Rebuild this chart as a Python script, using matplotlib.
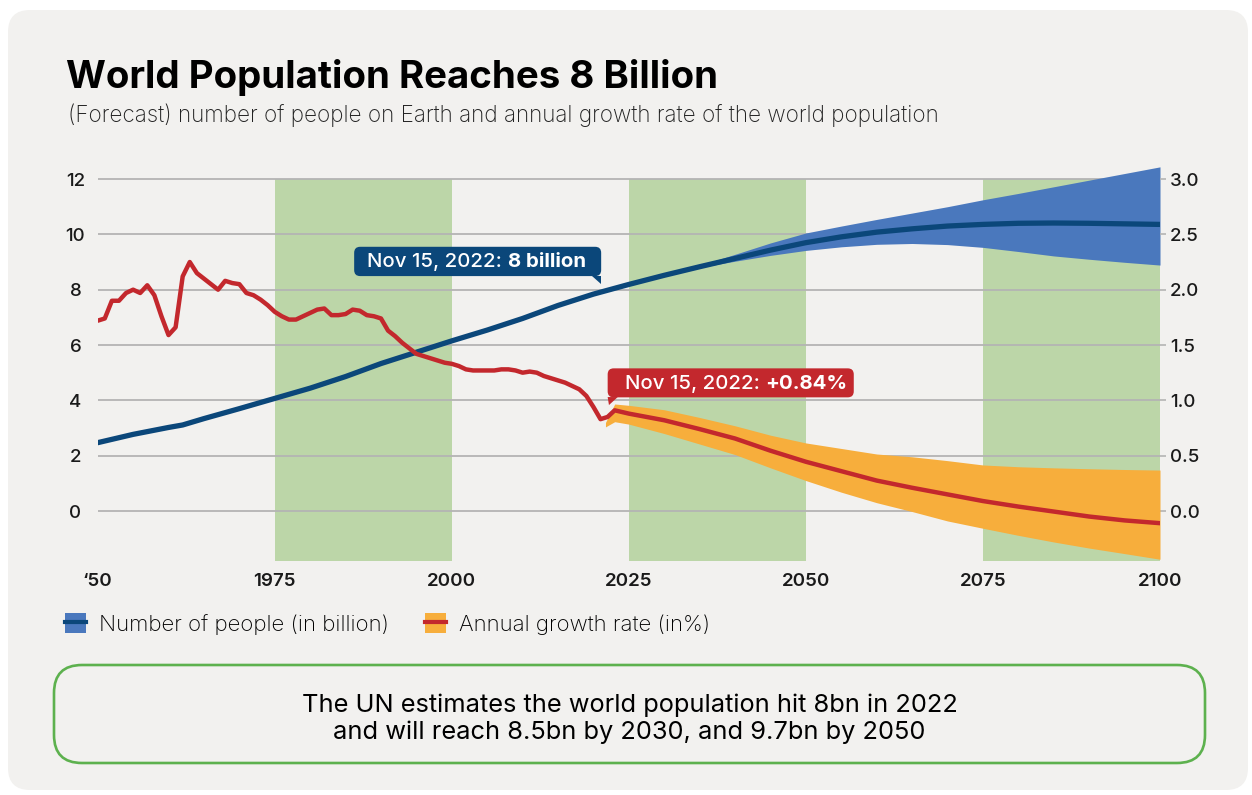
import matplotlib
matplotlib.use("Agg")
import matplotlib.pyplot as plt
from matplotlib.patches import FancyBboxPatch, Polygon, Patch
from matplotlib.lines import Line2D
from matplotlib.transforms import Affine2D

plt.rcParams['font.family'] = ['Inter', 'DejaVu Sans']

# ---- data ----
pop_hist_years = [1950, 1955, 1960, 1962, 1965, 1970, 1975, 1980, 1985, 1990, 1995,
                  2000, 2005, 2010, 2015, 2020, 2022]
pop_hist = [2.47, 2.77, 3.02, 3.11, 3.34, 3.70, 4.07, 4.44, 4.86, 5.33, 5.74,
            6.15, 6.54, 6.96, 7.43, 7.84, 7.98]

pop_proj_years = [2022, 2025, 2030, 2035, 2040, 2045, 2050, 2055, 2060, 2065, 2070,
                  2075, 2080, 2085, 2090, 2095, 2100]
pop_proj = [7.98, 8.19, 8.52, 8.83, 9.13, 9.43, 9.70, 9.91, 10.08, 10.20, 10.30,
            10.36, 10.40, 10.41, 10.40, 10.38, 10.36]

pop_band_years = [2033, 2035, 2040, 2045, 2050, 2055, 2060, 2065, 2070, 2075, 2080,
                  2085, 2090, 2095, 2100]
pop_upper = [8.66, 8.88, 9.28, 9.69, 10.05, 10.30, 10.54, 10.77, 11.00, 11.25, 11.48,
             11.72, 11.96, 12.20, 12.44]
pop_lower = [8.66, 8.80, 9.03, 9.24, 9.42, 9.55, 9.64, 9.67, 9.63, 9.53, 9.38,
             9.22, 9.10, 8.99, 8.89]

rate_hist_years = list(range(1950, 2024))
rate_hist = [1.72, 1.74, 1.90, 1.90, 1.97, 2.00, 1.97, 2.04, 1.95, 1.76,
             1.59, 1.66, 2.12, 2.25, 2.15, 2.10, 2.05, 2.00, 2.08, 2.06,
             2.05, 1.97, 1.95, 1.91, 1.86, 1.80, 1.76, 1.73, 1.73, 1.76,
             1.79, 1.82, 1.83, 1.77, 1.77, 1.78, 1.82, 1.81, 1.77, 1.76,
             1.74, 1.63, 1.58, 1.52, 1.47, 1.42, 1.40, 1.38, 1.36, 1.34,
             1.33, 1.31, 1.28, 1.27, 1.27, 1.27, 1.27, 1.28, 1.28, 1.27,
             1.25, 1.26, 1.25, 1.22, 1.20, 1.18, 1.16, 1.13, 1.10, 1.04,
             0.94, 0.83, 0.85, 0.91]

rate_proj_years = [2023, 2025, 2030, 2035, 2040, 2045, 2050, 2055, 2060, 2065, 2070,
                   2075, 2080, 2085, 2090, 2095, 2100]
rate_proj = [0.91, 0.88, 0.82, 0.74, 0.655, 0.545, 0.445, 0.36, 0.275, 0.21, 0.15,
             0.09, 0.04, -0.005, -0.05, -0.085, -0.11]

rate_band_years = [2021.7, 2023, 2025, 2030, 2035, 2040, 2045, 2050, 2055, 2060, 2065,
                   2070, 2075, 2080, 2085, 2090, 2095, 2100]
rate_upper = [0.80, 0.967, 0.955, 0.915, 0.845, 0.77, 0.685, 0.615, 0.565, 0.515, 0.49,
              0.455, 0.416, 0.40, 0.39, 0.382, 0.375, 0.37]
rate_lower = [0.76, 0.807, 0.785, 0.70, 0.605, 0.51, 0.39, 0.275, 0.17, 0.075, -0.005,
              -0.09, -0.156, -0.22, -0.28, -0.335, -0.385, -0.436]

shade_starts = [1975, 2025, 2075]
x_ticks = [1950, 1975, 2000, 2025, 2050, 2075, 2100]
x_labels = ['\u201850', '1975', '2000', '2025', '2050', '2075', '2100']
left_ticks = [0, 2, 4, 6, 8, 10, 12]
right_ticks = [0.0, 0.5, 1.0, 1.5, 2.0, 2.5, 3.0]

milestone_year = 2022.87
milestone_pop = 8.0
milestone_rate = 0.84

# ---- colours ----
BG = '#f2f1ef'
GREEN = '#bcd6a8'
NAVY = '#0b477a'
BLUE = '#4a78bd'
RED = '#c3282d'
ORANGE = '#f7ae3c'
GRID = '#b4b4b4'
TXT = '#1a1a1a'

W, H = 1252, 795
fig = plt.figure(figsize=(W / 100, H / 100), dpi=100)
fig.patch.set_facecolor('white')
px = Affine2D().scale(1 / W, 1 / H) + fig.transFigure  # pixel coords, origin bottom-left

fig.add_artist(FancyBboxPatch((8, 5), 1240, 780, boxstyle='round,pad=0,rounding_size=22',
                              transform=px, fc=BG, ec='none', zorder=-10))

ax = fig.add_axes([97.7 / W, (H - 560.8) / H, (1160 - 97.7) / W, (560.8 - 165.2) / H])
ax.patch.set_visible(False)
ax.set_xlim(1950, 2100)
ax.set_ylim(-1.8, 12.5)
ax2 = ax.twinx()
ax2.set_ylim(-0.45, 3.125)

for a in (ax, ax2):
    for s in a.spines.values():
        s.set_visible(False)

# green shaded quarter-centuries
for s in shade_starts:
    ax.fill_between([s, s + 25], -1.8, 12, color=GREEN, lw=0, zorder=0.2)

ax.set_axisbelow(True)
ax.grid(axis='y', color=GRID, lw=1.3)
ax.set_yticks(left_ticks)
ax.set_yticklabels([str(v) for v in left_ticks])
ax.tick_params(axis='y', length=0, pad=16, labelsize=13.5, labelcolor=TXT)
for lab in ax.get_yticklabels():
    lab.set_horizontalalignment('center')
    lab.set_fontweight('medium')

ax.set_xticks(x_ticks)
ax.set_xticklabels(x_labels)
ax.tick_params(axis='x', length=0, pad=9, labelsize=13.5, labelcolor=TXT)
for lab in ax.get_xticklabels():
    lab.set_fontweight('semibold')

ax2.set_yticks(right_ticks)
ax2.set_yticklabels(['%.1f' % v for v in right_ticks])
ax2.tick_params(axis='y', length=4, width=1.2, color=GRID, pad=3, labelsize=13.5, labelcolor=TXT)
for lab in ax2.get_yticklabels():
    lab.set_fontweight('medium')

# population
ax.fill_between(pop_band_years, pop_lower, pop_upper, color=BLUE, lw=0, zorder=2)
ax.plot(pop_hist_years + pop_proj_years[1:], pop_hist + pop_proj[1:], color=NAVY, lw=3.8,
        solid_capstyle='round', solid_joinstyle='round', zorder=3)

# growth rate
ax2.fill_between(rate_band_years, rate_lower, rate_upper, color=ORANGE, lw=0, zorder=2)
ax2.plot(rate_hist_years + rate_proj_years[1:], rate_hist + rate_proj[1:], color=RED, lw=3.2,
         solid_capstyle='round', solid_joinstyle='round', zorder=3)


def callout(a, x, y, box, tail, text_off, normal, bold, color):
    # box / tail / text offsets are in pixels relative to the data point
    x0, y0 = a.transData.transform((x, y))
    tr = Affine2D().translate(x0, y0)
    left, bottom, w, h = box
    a.add_patch(FancyBboxPatch((left, bottom), w, h, boxstyle='round,pad=0,rounding_size=6',
                               transform=tr, fc=color, ec='none', zorder=6, clip_on=False))
    a.add_patch(Polygon(tail, closed=True, transform=tr, fc=color, ec='none', zorder=6,
                        clip_on=False))
    t1 = a.annotate(normal, xy=(x, y), xytext=text_off, textcoords='offset pixels',
                    ha='left', va='center', color='white', fontsize=14.7, fontweight='medium',
                    zorder=7, annotation_clip=False)
    a.annotate(bold, xy=(1, 0), xycoords=t1, ha='left', va='bottom', color='white',
               fontsize=14.7, fontweight='bold', zorder=7, annotation_clip=False)


callout(ax, milestone_year, milestone_pop, (-259.6, 13.6, 247, 29.3),
        [(-21.3, 14), (-12.9, 14), (-12.9, 5.3)], (-246.3, 28.1),
        'Nov 15, 2022: ', '8 billion', NAVY)
callout(ax2, milestone_year, milestone_rate, (-6.1, 20.7, 246.1, 29),
        [(-6.1, 21), (4.0, 21), (-4.8, 13)], (11.4, 34),
        'Nov 15, 2022: ', '+0.84%', RED)

# titles
fig.text(66 / W, 1 - 88 / H, 'World Population Reaches 8 Billion', fontsize=27.7,
         fontweight='bold', color='black', va='baseline')
fig.text(68 / W, 1 - 122 / H,
         '(Forecast) number of people on Earth and annual growth rate of the world population',
         fontsize=16.2, fontweight='light', color='#222222', va='baseline')

# legend
handles = [(Patch(fc=BLUE, ec='none'), Line2D([], [], color=NAVY, lw=3)),
           (Patch(fc=ORANGE, ec='none'), Line2D([], [], color=RED, lw=3))]
fig.legend(handles, ['Number of people (in billion)', 'Annual growth rate (in%)'],
           loc='center left', bbox_to_anchor=(65 / W, 1 - 624 / H), ncol=2, frameon=False,
           handlelength=0.95, handleheight=0.95, handletextpad=0.6,
           columnspacing=1.6, borderpad=0, borderaxespad=0,
           prop={'weight': 'light', 'size': 16})

# bottom note box
fig.add_artist(FancyBboxPatch((54, 32), 1151, 98, boxstyle='round,pad=0,rounding_size=28',
                              transform=px, fc='none', ec='#5db14e', lw=1.9))
fig.text(629.5 / W, 76 / H,
         'The UN estimates the world population hit 8bn in 2022\nand will reach 8.5bn by 2030, and 9.7bn by 2050',
         ha='center', va='center', fontsize=18.3, color='black', linespacing=1.2)

fig.savefig('out.png', dpi=100, facecolor='white')
